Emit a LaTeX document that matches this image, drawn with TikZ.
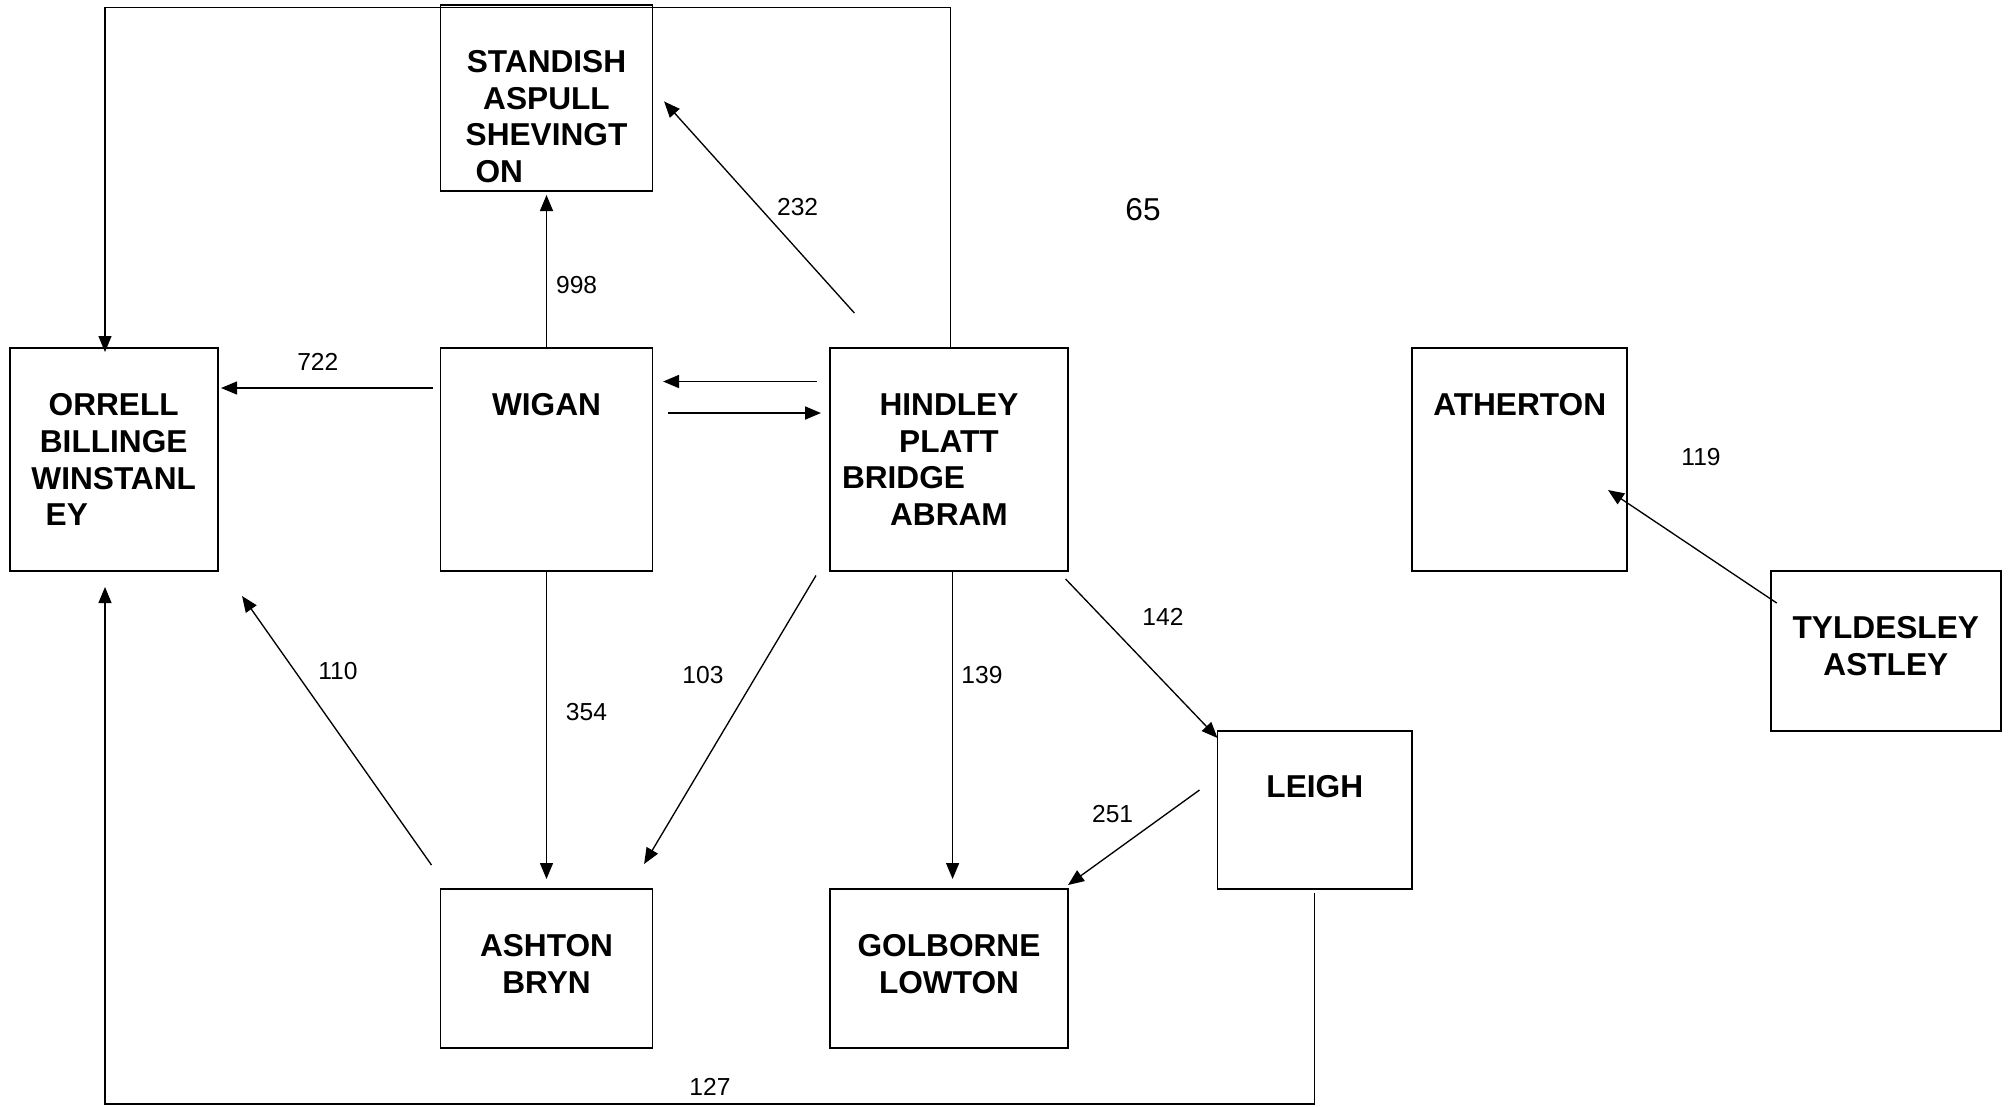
\documentclass[tikz,border=0pt]{standalone}
\usepackage{fontspec}
\setmainfont{Liberation Sans}
\usetikzlibrary{arrows.meta,positioning}

\tikzset{
  town/.style={draw, line width=0.55pt, inner sep=0pt, outer sep=0pt},
  townname/.style={font=\bfseries\fontsize{9}{10.45}\selectfont, align=center, inner sep=0pt, anchor=north},
  flow/.style={-{Triangle[length=1.6mm,width=1.3mm]}, line width=0.38pt},
  count/.style={font=\fontsize{7}{8}\selectfont, inner sep=0pt},
}

\begin{document}
\begin{tikzpicture}[x=0.1mm,y=-0.1mm]
    \useasboundingbox (0,0) rectangle (2009,1106);

    % boxes
    \node[town, minimum width=21.2mm, minimum height=18.64mm] (standish) at (546.5,97.8) {};
    \node[town, minimum width=20.77mm, minimum height=22.3mm] (orrell) at (113.7,459.5) {};
    \node[town, minimum width=21.2mm, minimum height=22.3mm] (wigan) at (546.5,459.5) {};
    \node[town, minimum width=23.8mm, minimum height=22.3mm] (hindley) at (949,459.5) {};
    \node[town, minimum width=21.54mm, minimum height=22.3mm] (atherton) at (1519.7,459.5) {};
    \node[town, minimum width=22.96mm, minimum height=16.04mm] (tyldesley) at (1885.8,650.8) {};
    \node[town, line width=0.4pt, minimum width=19.45mm, minimum height=15.8mm] (leigh) at (1314.75,810) {};
    \node[town, minimum width=21.2mm, minimum height=15.9mm] (ashton) at (546.5,968.5) {};
    \node[town, minimum width=23.8mm, minimum height=15.9mm] (golborne) at (949,968.5) {};

    % names
    \node[townname] (standishName) at ([yshift=-4.5mm]standish.north) {STANDISH\\ASPULL\\SHEVINGT\\\makebox[14.2mm][l]{ON}};
    \node[townname] (orrellName) at ([yshift=-4.5mm]orrell.north) {ORRELL\\BILLINGE\\WINSTANL\\\makebox[13.6mm][l]{EY}};
    \node[townname] (wiganName) at ([yshift=-4.5mm]wigan.north) {WIGAN};
    \node[townname] (hindleyName) at ([yshift=-4.5mm]hindley.north) {HINDLEY\\PLATT\\\makebox[21.4mm][l]{BRIDGE}\\ABRAM};
    \node[townname] (athertonName) at ([yshift=-4.5mm]atherton.north) {ATHERTON};
    \node[townname] (tyldesleyName) at ([yshift=-4.5mm]tyldesley.north) {TYLDESLEY\\ASTLEY};
    \node[townname] (leighName) at ([yshift=-4.4mm]leigh.north) {LEIGH};
    \node[townname] (ashtonName) at ([yshift=-4.5mm]ashton.north) {ASHTON\\BRYN};
    \node[townname] (golborneName) at ([yshift=-4.5mm]golborne.north) {GOLBORNE\\LOWTON};

    % flows
    \draw[flow] ([xshift=-0.8mm,yshift=7.15mm]wigan.west) -- ([xshift=0.35mm,yshift=7.15mm]orrell.east);
    \draw[flow] (wigan.north) -- ([yshift=-0.4mm]standish.south);
    \draw[flow] ([xshift=-9.46mm,yshift=3.5mm]hindley.north) -- ([xshift=1.16mm,yshift=-0.36mm]standish.east);
    \draw[flow, line width=0.5pt] ([xshift=-1.3mm,yshift=7.8mm]hindley.west) -- ([xshift=1.06mm,yshift=7.8mm]wigan.east);
    \draw[flow, line width=0.5pt] ([xshift=1.56mm,yshift=4.65mm]wigan.east) -- ([xshift=-0.9mm,yshift=4.65mm]hindley.west);
    \draw[flow] (wigan.south) -- ([yshift=1mm]ashton.north);
    \draw[flow] ([xshift=-0.9mm,yshift=2.4mm]ashton.north west) -- ([xshift=2.45mm,yshift=-2.5mm]orrell.south east);
    \draw[flow] ([xshift=-1.4mm,yshift=-0.45mm]hindley.south west) -- ([xshift=-0.84mm,yshift=2.5mm]ashton.north east);
    \draw[flow] ([xshift=0.36mm]hindley.south) -- ([xshift=0.36mm,yshift=1mm]golborne.north);
    \draw[flow] ([xshift=-0.24mm,yshift=-0.8mm]hindley.south east) -- ([yshift=-0.7mm]leigh.north west);
    \draw[flow] ([xshift=-1.8mm,yshift=2mm]leigh.west) -- ([yshift=0.4mm]golborne.north east);
    \draw[flow] ([xshift=0.57mm,yshift=-3.24mm]tyldesley.north west) -- ([xshift=-1.94mm,yshift=-3.05mm]atherton.east);

    % round the top and the bottom
    \coordinate (ceiling) at (0,7.7);
    \coordinate (floor) at (0,1104);
    \coordinate (orrellTop) at ([xshift=-0.87mm,yshift=-0.4mm]orrell.north);
    \coordinate (orrellBot) at ([xshift=-0.87mm,yshift=-1.6mm]orrell.south);
    \draw[flow] ([xshift=0.15mm]hindley.north) |- (orrellTop |- ceiling) -- (orrellTop);
    \draw[flow, line width=0.3pt] ([yshift=-0.4mm]leigh.south) |- (orrellBot |- floor) -- (orrellBot);

    % counts
    \node[count] (n722) at (317.8,361.6) {722};
    \node[count] (n998) at (576.6,285) {998};
    \node[count] (n232) at (797.6,206.7) {232};
    \node[count, font=\fontsize{9}{10}\selectfont] (n65) at (1143,210) {65};
    \node[count] (n119) at (1701,457) {119};
    \node[count] (n110) at (338,671) {110};
    \node[count] (n354) at (586.5,712) {354};
    \node[count] (n103) at (703,675) {103};
    \node[count] (n139) at (982,675) {139};
    \node[count] (n142) at (1163,617) {142};
    \node[count] (n251) at (1112.6,814) {251};
    \node[count] (n127) at (710,1086.5) {127};
\end{tikzpicture}
\end{document}
